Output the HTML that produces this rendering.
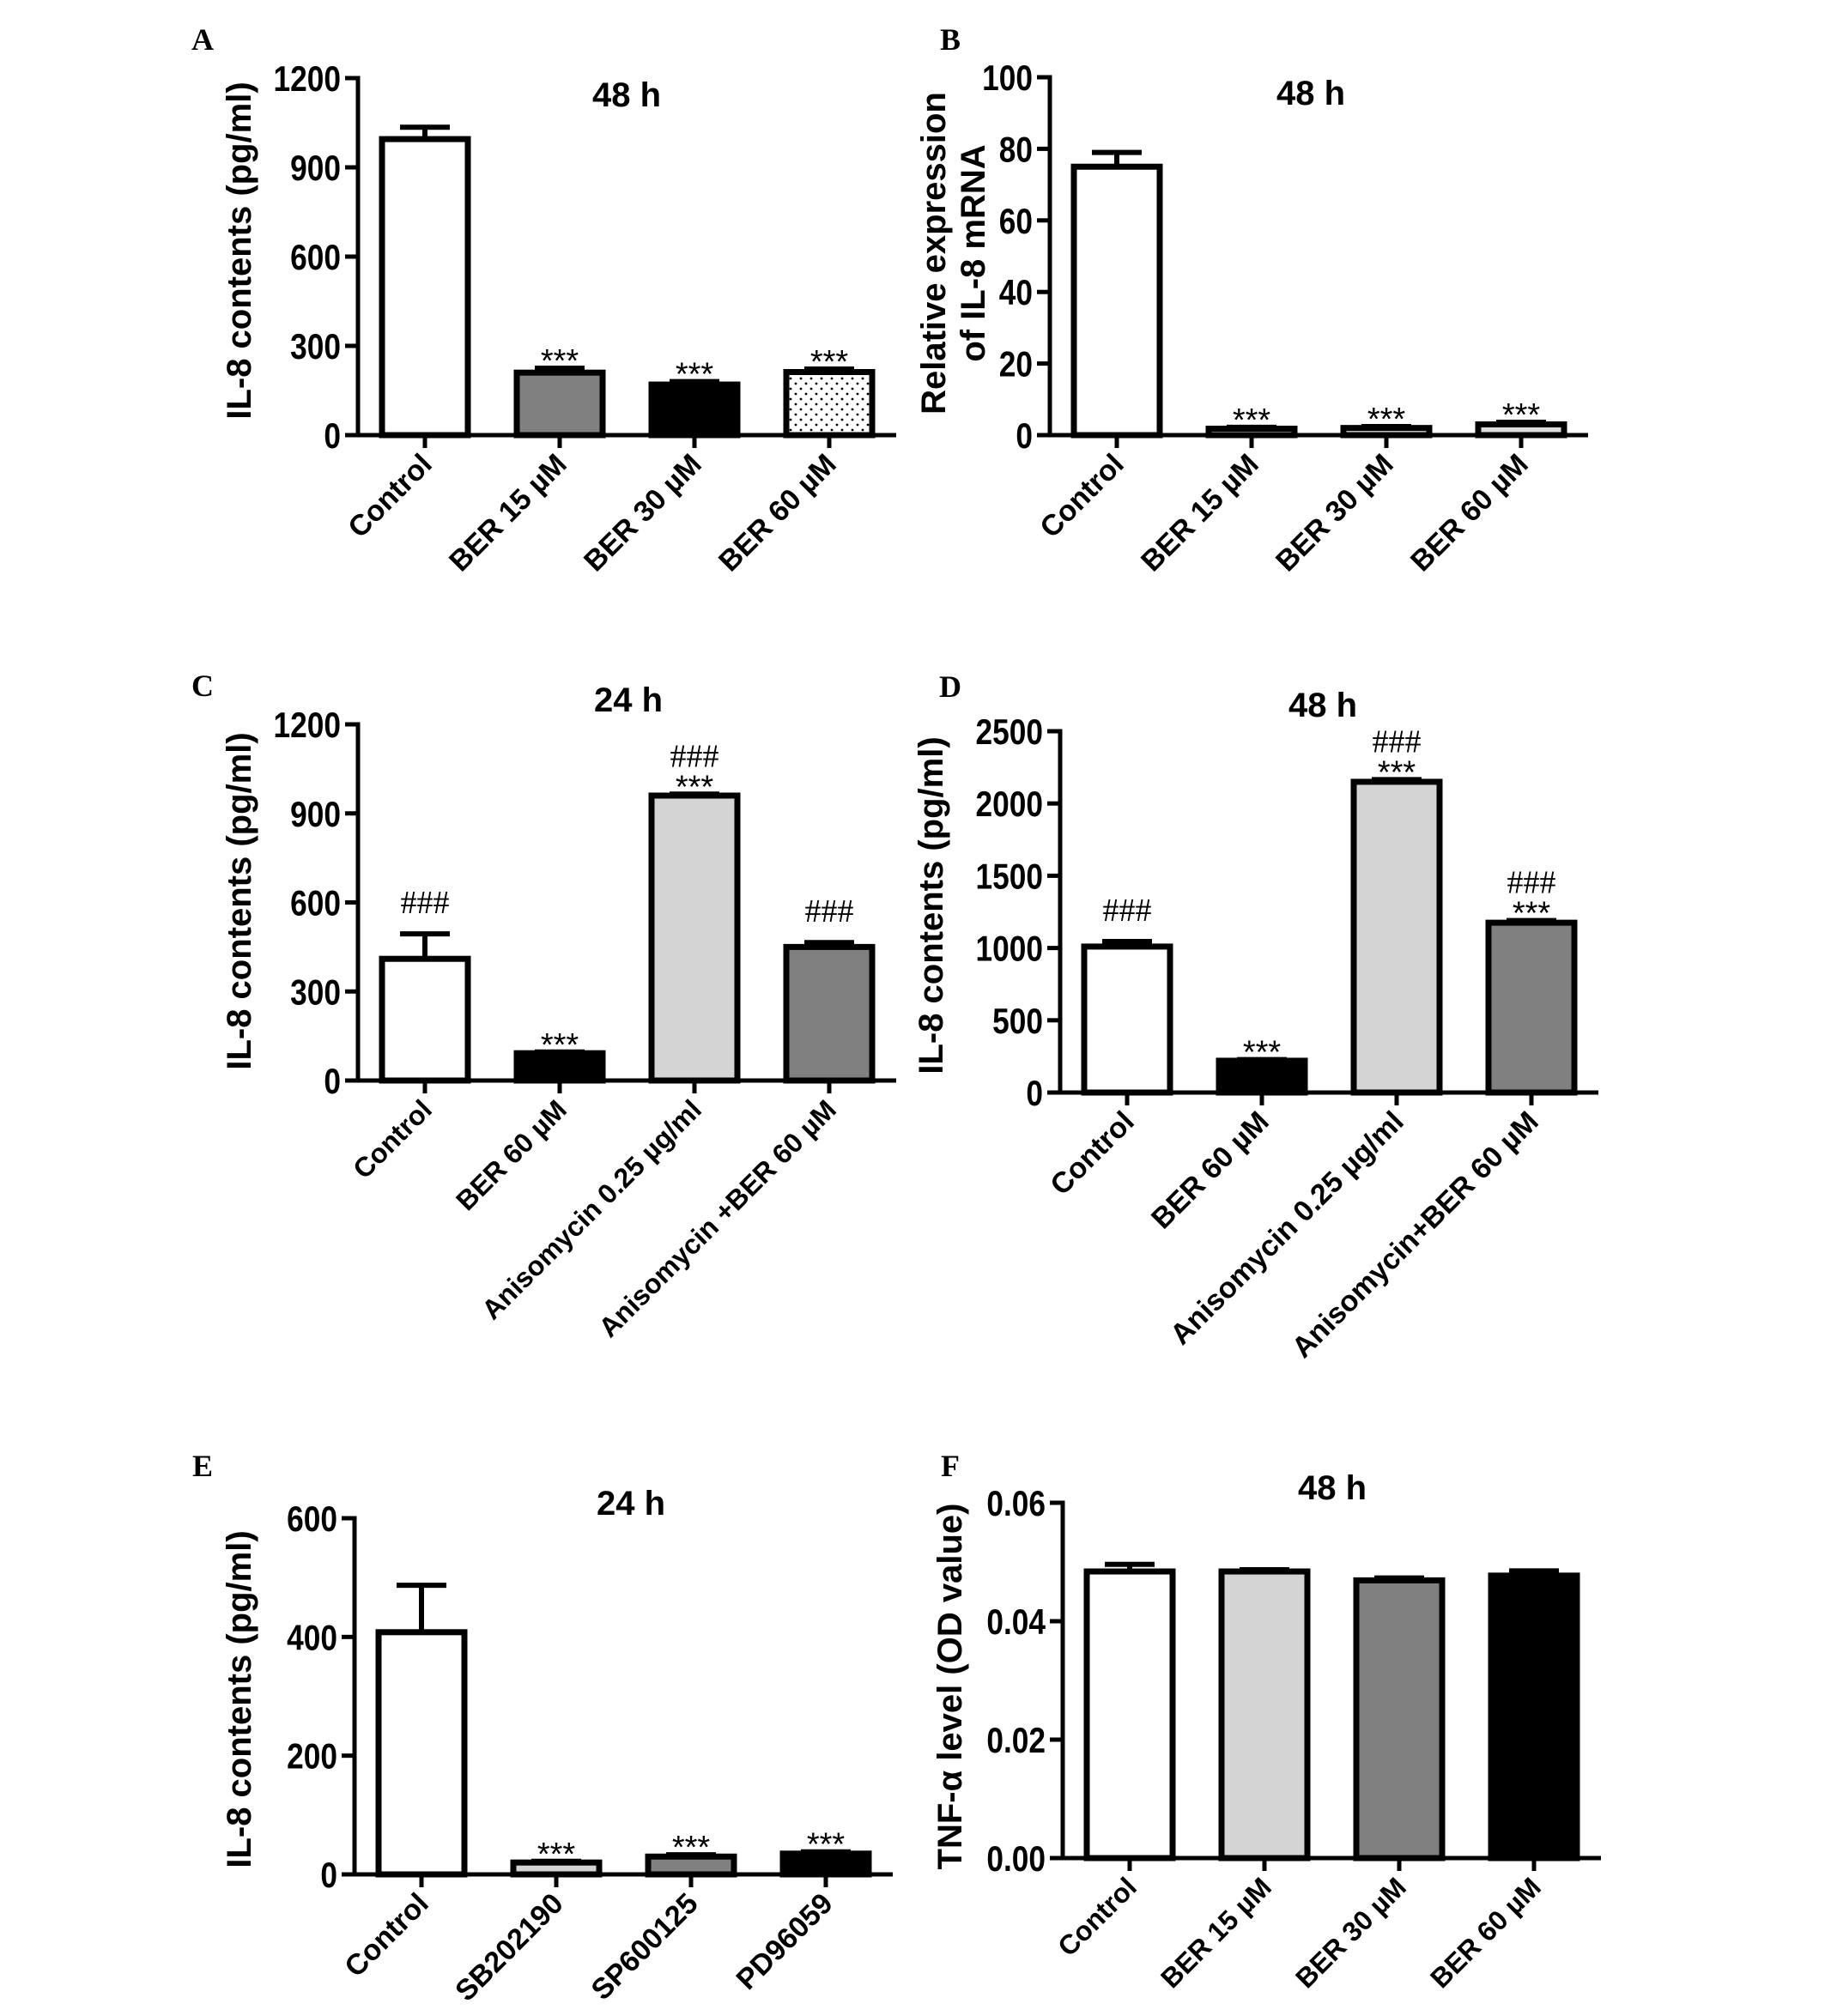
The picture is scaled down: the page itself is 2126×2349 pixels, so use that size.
<!DOCTYPE html>
<html><head><meta charset="utf-8">
<style>
html,body{margin:0;padding:0;background:#fff;}
svg{display:block;}
text{font-family:"Liberation Sans",Arial,sans-serif;font-weight:bold;fill:#000;}
.letter{font-family:"Liberation Serif",serif;font-size:36px;}
</style></head>
<body>
<svg id="fig" xmlns="http://www.w3.org/2000/svg" width="2126" height="2349" viewBox="0 0 2126 2349">
<defs>
<pattern id="dots" width="12" height="12" patternUnits="userSpaceOnUse">
<rect width="12" height="12" fill="#fff"/><circle cx="3" cy="3" r="1.4" fill="#000"/><circle cx="9" cy="9" r="1.4" fill="#000"/>
</pattern>
</defs>
</svg>
<script>
// ---- Panel A ----
const catsA = ["Control","BER 15 \u00b5M","BER 30 \u00b5M","BER 60 \u00b5M"];
const valsA = [995,210,170,212];
const errsA = [1035,225,180,222];
const ticksA = [0,300,600,900,1200];
const annA = [[],["***"],["***"],["***"]];
// ---- Panel B ----
const catsB = ["Control","BER 15 \u00b5M","BER 30 \u00b5M","BER 60 \u00b5M"];
const valsB = [75,1.8,2.0,3.0];
const errsB = [79,2.2,2.4,3.6];
const ticksB = [0,20,40,60,80,100];
const annB = [[],["***"],["***"],["***"]];
// ---- Panel C ----
const catsC = ["Control","BER 60 \u00b5M","Anisomycin 0.25 \u00b5g/ml","Anisomycin +BER 60 \u00b5M"];
const valsC = [410,92,960,450];
const errsC = [494,96,965,465];
const ticksC = [0,300,600,900,1200];
const annC = [["###"],["***"],["###","***"],["###"]];
// ---- Panel D ----
const catsD = ["Control","BER 60 \u00b5M","Anisomycin 0.25 \u00b5g/ml","Anisomycin+BER 60 \u00b5M"];
const valsD = [1010,220,2150,1175];
const errsD = [1045,228,2165,1190];
const ticksD = [0,500,1000,1500,2000,2500];
const annD = [["###"],["***"],["###","***"],["###","***"]];
// ---- Panel E ----
const catsE = ["Control","SB202190","SP600125","PD96059"];
const valsE = [408,20,30,35];
const errsE = [487,22,33,38];
const ticksE = [0,200,400,600];
const annE = [[],["***"],["***"],["***"]];
// ---- Panel F ----
const catsF = ["Control","BER 15 \u00b5M","BER 30 \u00b5M","BER 60 \u00b5M"];
const valsF = [0.0484,0.0484,0.0469,0.0477];
const errsF = [0.0496,0.0487,0.0473,0.0485];
const ticksF = [0,0.02,0.04,0.06];
const annF = [[],[],[],[]];

const NS = "http://www.w3.org/2000/svg";
const svg = document.getElementById("fig");
function mk(tag, attrs, parent){
  const e = document.createElementNS(NS, tag);
  for (const k in attrs) e.setAttribute(k, attrs[k]);
  (parent||svg).appendChild(e);
  return e;
}

function panel(o){
  const g = mk("g", {});
  
  
  const ax = o.ax, y0 = o.y0, yTop = o.yTop, ymax = o.ticks[o.ticks.length-1];
  const yS = v => y0 - (v/ymax)*(y0-yTop);
  const xS = i => ax + 78 + i*157;
  const L = mk("text", {x:o.lx, y:o.ly, class:"letter", "text-anchor":"middle"}, g);
  L.textContent = o.id;
  
  
  const T = mk("text", {x:o.tx, y:o.ty+14, "font-size":40, "text-anchor":"middle"}, g);
  T.textContent = o.title;
  
  
  o.vals.forEach((v,i)=>{
    const cx = xS(i), top = yS(v);
    const r = mk("rect", {x:cx-50, y:top, width:100, height:Math.max(y0-top,0.5), fill:o.fills[i], stroke:"#000", "stroke-width":7}, g);
    
    
    const et = yS(o.errs[i]);
    if (top - et > 1){
      const eb = mk("line", {x1:cx, x2:cx, y1:top, y2:et, stroke:"#000", "stroke-width":6}, g);
      
      
    }
    const cap = mk("line", {x1:cx-29, x2:cx+29, y1:et, y2:et, stroke:"#000", "stroke-width":6}, g);
    
    
    const a = o.ann[i];
    let base = et + 4;
    for (let k=a.length-1;k>=0;k--){
      const s = a[k];
      let t;
      if (s === "***"){
        t = mk("text", {x:cx, y:base, "font-size":38, "text-anchor":"middle"}, g);
        t.style.fontWeight = "normal";
        base -= 24;
      } else {
        if (a.length === 1) base = et - 12;
        t = mk("text", {x:cx, y:base - 12, "font-size":38, "text-anchor":"middle"}, g);
        t.style.fontFamily = '"Liberation Serif", serif';
        t.style.fontWeight = "normal";
      }
      t.textContent = s;
      
      
    }
    const tk = mk("line", {x1:cx, x2:cx, y1:y0, y2:y0+15, stroke:"#000", "stroke-width":5}, g);
    
    
    const lb = mk("text", {x:cx+10, y:y0+36, "font-size":o.lfs, "text-anchor":"end", transform:`rotate(-45 ${cx+10} ${y0+36})`}, g);
    lb.textContent = o.cats[i];
    
    
  });
  const ya = mk("line", {x1:ax, x2:ax, y1:yTop-2.5, y2:y0+2.5, stroke:"#000", "stroke-width":5}, g);
  
  
  const xa = mk("line", {x1:ax-15, x2:ax+627, y1:y0, y2:y0, stroke:"#000", "stroke-width":5}, g);
  
  
  o.ticks.forEach((t,i)=>{
    const y = yS(t);
    const tl = mk("line", {x1:ax-15, x2:ax, y1:y, y2:y, stroke:"#000", "stroke-width":5}, g);
    
    
    const tt = mk("text", {x:0, y:0, "font-size":42, "text-anchor":"end", transform:`translate(${ax-20} ${y+15}) scale(0.84 1)`}, g);
    tt.textContent = o.tickLabels[i];
    
    
  });
  o.ylab.forEach((s,k)=>{
    const x = o.yx + k*46 - (o.ylab.length-1)*23;
    const yt = mk("text", {x:x, y:o.yy, "font-size":40, "text-anchor":"middle", transform:`rotate(-90 ${x} ${o.yy})`}, g);
    yt.textContent = s;
    
    
  });
}

panel({id:"A", ax:417, y0:507, yTop:91, ticks:ticksA, tickLabels:ticksA.map(String), cats:catsA, vals:valsA, errs:errsA, ann:annA,
  fills:["#fff","#808080","#000","url(#dots)"], title:"48 h", tx:730, ty:110, lx:236, ly:58, lfs:34,
  ylab:["IL-8 contents  (pg/ml)"], yx:292, yy:292});
panel({id:"B", ax:1223, y0:507, yTop:90, ticks:ticksB, tickLabels:ticksB.map(String), cats:catsB, vals:valsB, errs:errsB, ann:annB,
  fills:["#fff","#ddd","#ddd","#ddd"], title:"48 h", tx:1527, ty:108, lx:1107, ly:58, lfs:34,
  ylab:["Relative expression","of IL-8 mRNA"], yx:1124, yy:295});
panel({id:"C", ax:417, y0:1259, yTop:844, ticks:ticksC, tickLabels:ticksC.map(String), cats:catsC, vals:valsC, errs:errsC, ann:annC,
  fills:["#fff","#000","#d4d4d4","#808080"], title:"24 h", tx:732, ty:815, lx:236, ly:811, lfs:32,
  ylab:["IL-8 contents  (pg/ml)"], yx:292, yy:1050});
panel({id:"D", ax:1235, y0:1273, yTop:852, ticks:ticksD, tickLabels:ticksD.map(String), cats:catsD, vals:valsD, errs:errsD, ann:annD,
  fills:["#fff","#000","#d4d4d4","#808080"], title:"48 h", tx:1541, ty:821, lx:1107, ly:812, lfs:34,
  ylab:["IL-8 contents (pg/ml)"], yx:1098, yy:1055});
panel({id:"E", ax:413, y0:2184, yTop:1769, ticks:ticksE, tickLabels:ticksE.map(String), cats:catsE, vals:valsE, errs:errsE, ann:annE,
  fills:["#fff","#d4d4d4","#808080","#000"], title:"24 h", tx:735, ty:1751, lx:236, ly:1720, lfs:34,
  ylab:["IL-8 contents (pg/ml)"], yx:292, yy:1980});
panel({id:"F", ax:1238, y0:2165, yTop:1751, ticks:ticksF, tickLabels:ticksF.map(v=>v.toFixed(2)), cats:catsF, vals:valsF, errs:errsF, ann:annF,
  fills:["#fff","#d4d4d4","#808080","#000"], title:"48 h", tx:1552, ty:1733, lx:1107, ly:1720, lfs:32,
  ylab:["TNF-\u03b1 level (OD value)"], yx:1120, yy:1965});
</script>
</body></html>
